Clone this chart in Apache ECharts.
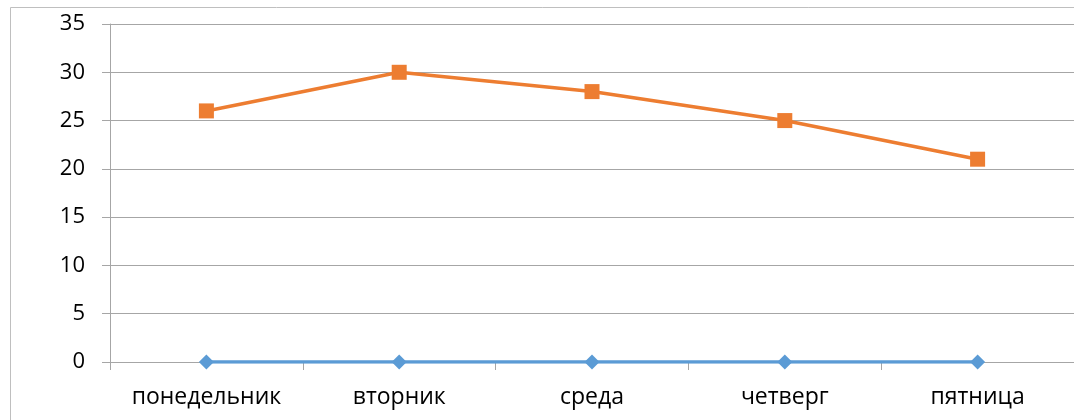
<!DOCTYPE html>
<html><head><meta charset="utf-8">
<script src="https://cdn.jsdelivr.net/npm/echarts@6/dist/echarts.min.js"></script>
<style>html,body{margin:0;padding:0;background:#fff}#c{width:1074px;height:420px}</style>
</head><body><div id="c"></div>
<script>
const categories = ['понедельник','вторник','среда','четверг','пятница'];
const series1 = [0,0,0,0,0];
const series2 = [26,30,28,25,21];
const yTicks = [0,5,10,15,20,25,30,35];

const chart = echarts.init(document.getElementById('c'), null, {renderer:'canvas'});
const font = '"Open Sans", sans-serif';
chart.setOption({
  animation:false,
  graphic:[{type:'rect',shape:{x:10.5,y:7.5,width:1200,height:600},style:{fill:'none',stroke:'#bfbfbf',lineWidth:1},z:-1}],
  grid:{left:110,top:24,width:969,height:338,containLabel:false},
  xAxis:{type:'category',data:categories,boundaryGap:true,
    axisLine:{show:true,lineStyle:{color:'#a6a6a6',width:1}},
    axisTick:{show:true,interval:0,length:8,lineStyle:{color:'#a6a6a6'}},
    axisLabel:{color:'#000',fontSize:23,fontFamily:font,margin:24,interval:0,hideOverlap:false}},
  yAxis:{type:'value',min:0,max:35,interval:5,
    axisLine:{show:true,lineStyle:{color:'#a6a6a6',width:1}},
    axisTick:{show:true,length:8,lineStyle:{color:'#a6a6a6'}},
    splitLine:{show:true,lineStyle:{color:'#a6a6a6',width:1}},
    axisLabel:{color:'#000',fontSize:22,fontFamily:font,margin:25,
      formatter:v=>yTicks.includes(v)?String(v):''}},
  series:[
    {type:'line',data:series1,symbol:'diamond',symbolSize:15,
      lineStyle:{color:'#5b9bd5',width:3.5},itemStyle:{color:'#5b9bd5'}},
    {type:'line',data:series2,symbol:'rect',symbolSize:15,
      lineStyle:{color:'#ed7d31',width:3.5},itemStyle:{color:'#ed7d31'}}
  ]
});
</script></body></html>
